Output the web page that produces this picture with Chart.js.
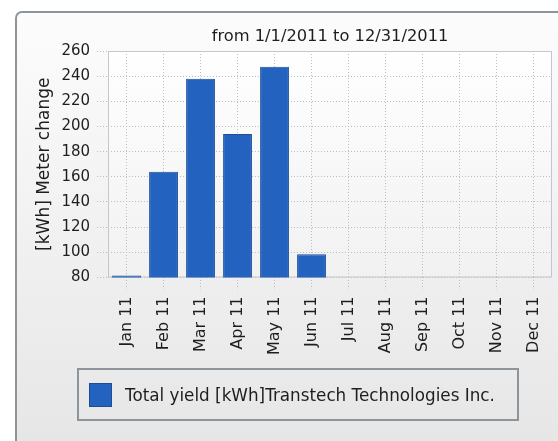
<!DOCTYPE html>
<html>
<head>
<meta charset="utf-8">
<script src="https://cdn.jsdelivr.net/npm/chart.js@4/dist/chart.umd.min.js"></script>
<style>
  html, body { margin: 0; padding: 0; background: #fff; overflow: hidden; }
  body { width: 558px; height: 441px; position: relative; font-family: "DejaVu Sans", sans-serif; }
  .panel {
    position: absolute; left: 15px; top: 11px; width: 600px; height: 480px;
    border: 2px solid #8d959b; border-radius: 7px; box-sizing: border-box;
    background: linear-gradient(to bottom, #fcfcfc, #e4e4e4);
  }
  #chart { position: absolute; left: 0; top: 0; }
  .legend {
    position: absolute; left: 77px; top: 368px; width: 442px; height: 53px;
    border: 2px solid #8d959b; box-sizing: border-box;
    display: flex; align-items: center; font-size: 16.8px; color: #1e1e1e;
  }
  .legend .box { width: 23px; height: 24px; margin: 0 13px 0 10px; box-sizing: border-box; border: 1px solid #1c4d96; }
</style>
</head>
<body>
<div class="panel"></div>
<canvas id="chart" width="660" height="441"></canvas>
<div class="legend" id="legend"></div>
<script>
const months = ["Jan 11", "Feb 11", "Mar 11", "Apr 11", "May 11", "Jun 11",
                "Jul 11", "Aug 11", "Sep 11", "Oct 11", "Nov 11", "Dec 11"];
const meterChange = [81.6, 164, 238, 194, 247.5, 98.5, null, null, null, null, null, null];
const seriesLabel = "Total yield [kWh]Transtech Technologies Inc.";
const chartTitle = "from 1/1/2011 to 12/31/2011";
const yTitle = "[kWh] Meter change";
const yMin = 80, yMax = 260, yStep = 20;

const barFill = "#2462c0";
const barEdge = "#1c4d96";
const gridColor = "#b9bec2";
const textColor = "#1e1e1e";

// plot background, frame, and the title centred over the plot
const plotFrame = {
  id: "plotFrame",
  beforeDraw(chart) {
    const { ctx, chartArea: a } = chart;
    const g = ctx.createLinearGradient(0, a.top, 0, a.bottom);
    g.addColorStop(0, "#ffffff");
    g.addColorStop(1, "#f1f1f1");
    ctx.save();
    ctx.fillStyle = g;
    ctx.fillRect(a.left, a.top, a.right - a.left, a.bottom - a.top);
    ctx.restore();
  },
  beforeDatasetsDraw(chart) {
    const { ctx, chartArea: a } = chart;
    ctx.save();
    ctx.strokeStyle = "#c3c7cb";
    ctx.lineWidth = 1;
    ctx.strokeRect(a.left + 0.5, a.top + 0.5, a.right - a.left - 1, a.bottom - a.top - 1);
    ctx.restore();
  },
  afterDraw(chart) {
    const { ctx, chartArea: a } = chart;
    ctx.save();
    ctx.font = "16.3px 'DejaVu Sans'";
    ctx.fillStyle = textColor;
    ctx.textAlign = "center";
    ctx.textBaseline = "middle";
    ctx.fillText(chartTitle, (a.left + a.right) / 2, a.top - 14);
    ctx.restore();
  }
};

const chart = new Chart(document.getElementById("chart"), {
  type: "bar",
  data: {
    labels: months,
    datasets: [{
      label: seriesLabel,
      data: meterChange,
      backgroundColor: barFill,
      borderColor: barEdge,
      borderWidth: 1,
      barPercentage: 0.78,
      categoryPercentage: 1
    }]
  },
  options: {
    responsive: false,
    animation: false,
    layout: { padding: { left: 20, right: 108, top: 51, bottom: 79 } },
    plugins: {
      legend: { display: false },
      tooltip: { enabled: false },
      title: { display: false }
    },
    scales: {
      x: {
        grid: { offset: false, color: gridColor, tickLength: 12, tickColor: gridColor, tickBorderDash: [1, 2] },
        border: { display: false, dash: [1, 2] },
        ticks: {
          minRotation: 90, maxRotation: 90, autoSkip: false, padding: 7,
          color: textColor, font: { family: "DejaVu Sans", size: 16 }
        }
      },
      y: {
        min: yMin, max: yMax,
        grid: { color: gridColor, tickLength: 11, tickColor: gridColor, tickBorderDash: [1, 2] },
        border: { display: false, dash: [1, 2] },
        ticks: { stepSize: yStep, padding: 7, color: textColor, font: { family: "DejaVu Sans", size: 15 } },
        title: {
          display: true, text: yTitle, color: textColor,
          font: { family: "DejaVu Sans", size: 17 },
          padding: { top: 14, bottom: 0 }
        }
      }
    }
  },
  plugins: [plotFrame]
});

// legend drawn as html from the dataset
const ds = chart.data.datasets[0];
document.getElementById("legend").innerHTML =
  `<span class="box" style="background:${ds.backgroundColor};border-color:${ds.borderColor}"></span><span>${ds.label}</span>`;
</script>
</body>
</html>
